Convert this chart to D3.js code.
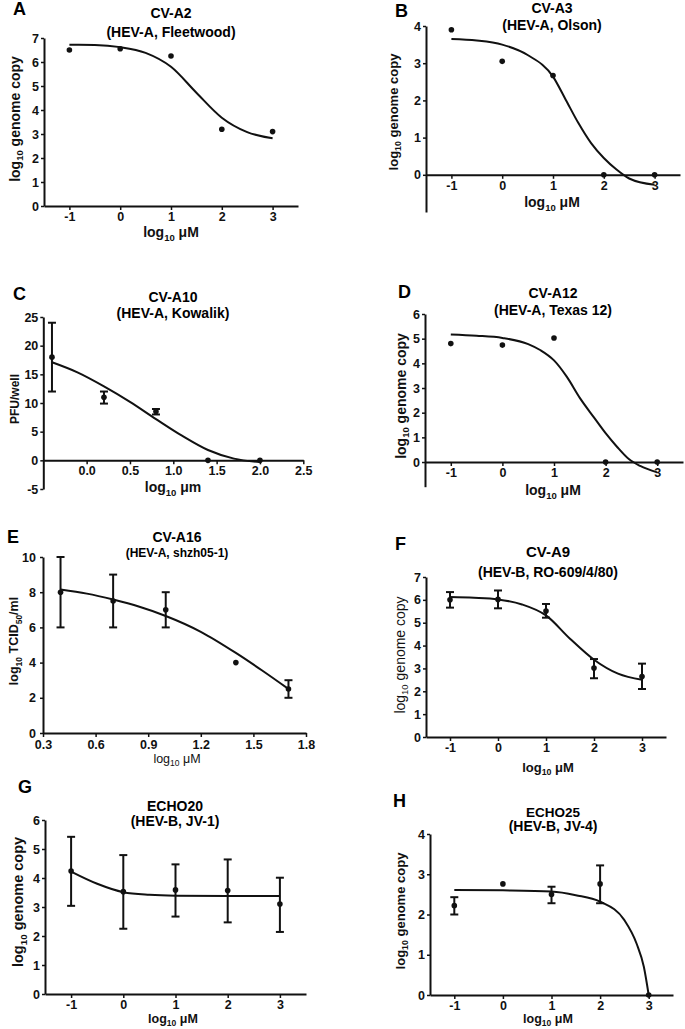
<!DOCTYPE html>
<html><head><meta charset="utf-8">
<script src="https://cdn.jsdelivr.net/npm/d3@7"></script>
<style>body{margin:0;background:#fff}</style></head>
<body><svg id="c" width="685" height="1029"></svg>
<script>
// ---------- DATA ----------
const doseX = [-1, 0, 1, 2, 3];

// A: CV-A2
const aY = [6.5, 6.55, 6.25, 3.2, 3.1];
const aCurveX = [-1, -0.5, 0, 0.5, 1, 1.5, 2, 2.5, 3];
const aCurveY = [6.72, 6.71, 6.62, 6.38, 5.8, 4.72, 3.68, 3.08, 2.82];

// B: CV-A3
const bY = [3.9, 3.05, 2.67, 0, 0];
const bCurveX = [-1, -0.5, 0, 0.5, 1, 1.25, 1.5, 1.75, 2, 2.25, 2.5, 3];
const bCurveY = [3.65, 3.61, 3.5, 3.22, 2.64, 2.02, 1.39, 0.85, 0.45, 0.14, -0.1, -0.27];

// C: CV-A10
const cX = [-0.4, 0.2, 0.8, 1.4, 2.0];
const cY = [18, 11, 8.5, 0, 0];
const cLo = [12, 9.9, 8.0, null, null];
const cHi = [24, 12, 8.95, null, null];
const cCurveX = [-0.4, -0.1, 0.2, 0.5, 0.8, 1.1, 1.4, 1.7, 2.0];
const cCurveY = [17.1, 15.3, 12.9, 10.2, 7.2, 4.3, 1.8, 0.3, -0.3];

// D: CV-A12
const dY = [4.8, 4.74, 5.03, 0, 0];
const dCurveX = [-1, -0.5, 0, 0.5, 0.74, 1, 1.25, 1.5, 1.77, 2, 2.22, 2.45, 2.67, 3];
const dCurveY = [5.17, 5.12, 5.03, 4.78, 4.53, 4.12, 3.45, 2.6, 1.82, 1.17, 0.62, 0.12, -0.16, -0.42];

// E: CV-A16
const eX = [0.4, 0.7, 1.0, 1.4, 1.7];
const eY = [8, 7.5, 7, 4, 2.5];
const eLo = [6, 6, 6, null, 2];
const eHi = [10, 9, 8, null, 3];
const eCurveX = [0.4, 0.55, 0.7, 0.85, 1.0, 1.2, 1.4, 1.55, 1.7];
const eCurveY = [8.15, 7.92, 7.58, 7.17, 6.65, 5.75, 4.55, 3.55, 2.5];

// F: CV-A9
const fY = [6.0, 6.02, 5.51, 3.02, 2.65];
const fLo = [5.66, 5.63, 5.22, 2.57, 2.1];
const fHi = [6.34, 6.41, 5.82, 3.41, 3.21];
const fCurveX = [-1, -0.5, 0, 0.5, 1, 1.5, 2, 2.5, 3];
const fCurveY = [6.12, 6.09, 6.02, 5.8, 5.32, 4.3, 3.38, 2.77, 2.5];

// G: ECHO20
const gY = [4.24, 3.53, 3.59, 3.57, 3.1];
const gLo = [3.04, 2.25, 2.67, 2.47, 2.14];
const gHi = [5.42, 4.79, 4.47, 4.64, 4.01];
const gCurveX = [-1, -0.5, 0, 0.5, 1, 2, 3];
const gCurveY = [4.22, 3.8, 3.51, 3.42, 3.39, 3.38, 3.38];

// H: ECHO25
const hY = [2.22, 2.76, 2.5, 2.76, 0];
const hLo = [2.0, null, 2.28, 2.28, null];
const hHi = [2.43, null, 2.69, 3.22, null];
const hCurveX = [-1, 0, 1, 1.5, 2, 2.5, 2.75, 2.9, 3];
const hCurveY = [2.61, 2.6, 2.57, 2.48, 2.32, 1.86, 1.28, 0.7, 0];

// tick values
const ticksDose = [-1, 0, 1, 2, 3];
const ticksC_X = [0, 0.5, 1.0, 1.5, 2.0, 2.5];
const ticksC_Y = [-5, 0, 5, 10, 15, 20, 25];
const ticksE_X = [0.3, 0.6, 0.9, 1.2, 1.5, 1.8];
const ticksE_Y = [0, 2, 4, 6, 8, 10];

// ---------- LAYOUT ----------
const FONT = "'Liberation Sans', Arial, Helvetica, sans-serif";
const intFmt = d => String(d);
const oneFmt = d => d.toFixed(1);
const genomeLab = [["log"], ["10", 1], [" genome copy"]];
const doseLab = [["log"], ["10", 1], [" \u03bcM"]];

const panels = [
  {letter:"A", lx:13, ly:15, title:"CV-A2", sub:"(HEV-A, Fleetwood)", tx:171, ty:18, sy:37, tS:14, sS:14,
   xd:[-1.5,3.5], xr:[44,298], yd:[0,7], yr:[206,38], xt:ticksDose, yt:d3.range(0,8), xf:intFmt, yf:intFmt,
   xs:doseX, ys:aY, cx:aCurveX, cy:aCurveY,
   xl:doseLab, xlx:171, xly:237, xlS:14, yl:genomeLab, ylx:15, yly:119, ylS:14},
  {letter:"B", lx:395, ly:17, title:"CV-A3", sub:"(HEV-A, Olson)", tx:552, ty:13, sy:30, tS:14, sS:14,
   xd:[-1.5,3.5], xr:[426,680], yd:[-1,4], yr:[212,26], xt:ticksDose, yt:[0,1,2,3,4], xf:intFmt, yf:intFmt,
   xs:doseX, ys:bY, cx:bCurveX, cy:bCurveY,
   xl:doseLab, xlx:552, xly:207, xlS:14, yl:genomeLab, ylx:393, yly:112, ylS:13},
  {letter:"C", lx:13, ly:300, title:"CV-A10", sub:"(HEV-A, Kowalik)", tx:173, ty:302, sy:318, tS:14, sS:14,
   xd:[-0.5,2.5], xr:[43.3,303.3], yd:[-5,25], yr:[489,317], xt:ticksC_X, yt:ticksC_Y, xf:oneFmt, yf:intFmt,
   xs:cX, ys:cY, lo:cLo, hi:cHi, cx:cCurveX, cy:cCurveY,
   xl:[["log"],["10",1],[" \u03bcm"]], xlx:173, xly:492, xlS:14, yl:[["PFU/well"]], ylx:15, yly:399, ylS:12},
  {letter:"D", lx:398, ly:298, title:"CV-A12", sub:"(HEV-A, Texas 12)", tx:553, ty:298, sy:315, tS:14, sS:14,
   xd:[-1.5,3.5], xr:[425,683], yd:[-1,6], yr:[486.7,314], xt:ticksDose, yt:[0,1,2,3,4,5,6], xf:intFmt, yf:intFmt,
   xs:doseX, ys:dY, cx:dCurveX, cy:dCurveY,
   xl:doseLab, xlx:553, xly:495, xlS:14, yl:genomeLab, ylx:401, yly:396, ylS:14},
  {letter:"E", lx:7, ly:543, title:"CV-A16", sub:"(HEV-A, shzh05-1)", tx:177, ty:542, sy:557, tS:14, sS:12,
   xd:[0.3,1.8], xr:[43,306], yd:[0,10], yr:[733,557], xt:ticksE_X, yt:ticksE_Y, xf:oneFmt, yf:intFmt,
   xs:eX, ys:eY, lo:eLo, hi:eHi, cx:eCurveX, cy:eCurveY, xPad:3, yPad:4,
   xl:doseLab, xlx:177, xly:763, xlS:12.5, xlW:"normal",
   yl:[["log"],["10",1],[" TCID"],["50",1],["/ml"]], ylx:14, yly:641, ylS:12.5},
  {letter:"F", lx:395, ly:550, title:"CV-A9", sub:"(HEV-B, RO-609/4/80)", tx:548, ty:557, sy:577, tS:15, sS:14,
   xd:[-1.5,3.5], xr:[426,666], yd:[0,7], yr:[737,577], xt:ticksDose, yt:d3.range(0,8), xf:intFmt, yf:intFmt,
   xs:doseX, ys:fY, lo:fLo, hi:fHi, cx:fCurveX, cy:fCurveY,
   xl:doseLab, xlx:548, xly:772, xlS:13, yl:genomeLab, ylx:400, yly:655, ylS:14, ylW:"normal"},
  {letter:"G", lx:18, ly:793, title:"ECHO20", sub:"(HEV-B, JV-1)", tx:175, ty:811, sy:826, tS:14, sS:14,
   xd:[-1.5,3.5], xr:[45,306], yd:[0,6], yr:[994,820], xt:ticksDose, yt:d3.range(0,7), xf:intFmt, yf:intFmt,
   xs:doseX, ys:gY, lo:gLo, hi:gHi, cx:gCurveX, cy:gCurveY,
   xl:doseLab, xlx:173, xly:1023, xlS:12.5, yl:genomeLab, ylx:18, yly:902, ylS:14.5},
  {letter:"H", lx:393, ly:807, title:"ECHO25", sub:"(HEV-B, JV-4)", tx:553, ty:817, sy:831, tS:13.5, sS:14,
   xd:[-1.5,3.5], xr:[430,673], yd:[0,4], yr:[995,834], xt:ticksDose, yt:[0,1,2,3,4], xf:intFmt, yf:intFmt,
   xs:doseX, ys:hY, lo:hLo, hi:hHi, cx:hCurveX, cy:hCurveY,
   xl:doseLab, xlx:548, xly:1023, xlS:12.5, yl:genomeLab, ylx:400, yly:911, ylS:13}
];

// ---------- DRAW ----------
const svg = d3.select("#c").style("font-family", FONT);
svg.append("rect").attr("width",685).attr("height",1029).attr("fill","#fff");

function richText(sel, parts, size) {
  const shift = size * 0.25;
  let down = false;
  parts.forEach(p => {
    const t = sel.append("tspan").text(p[0]);
    if (p[1]) { t.attr("font-size", size * 0.68).attr("dy", shift); down = true; }
    else if (down) { t.attr("dy", -shift); down = false; }
  });
}

panels.forEach(p => {
  const g = svg.append("g");
  const x = d3.scaleLinear().domain(p.xd).range(p.xr);
  const y = d3.scaleLinear().domain(p.yd).range(p.yr);

  g.append("text").attr("x", p.lx).attr("y", p.ly).attr("font-size", 18)
    .attr("font-weight", "bold").text(p.letter);
  g.append("text").attr("x", p.tx).attr("y", p.ty).attr("text-anchor", "middle")
    .attr("font-size", p.tS).attr("font-weight", "bold").text(p.title);
  g.append("text").attr("x", p.tx).attr("y", p.sy).attr("text-anchor", "middle")
    .attr("font-size", p.sS).attr("font-weight", "bold").text(p.sub);

  const ya = g.append("g").attr("transform", `translate(${p.xr[0]},0)`)
    .call(d3.axisLeft(y).tickValues(p.yt).tickFormat(p.yf).tickSize(3).tickPadding(p.yPad || 2).tickSizeOuter(0));
  const xa = g.append("g").attr("transform", `translate(0,${y(0)})`)
    .call(d3.axisBottom(x).tickValues(p.xt).tickFormat(p.xf).tickSize(4).tickPadding(p.xPad || 2).tickSizeOuter(0));
  [ya, xa].forEach(a => {
    a.select(".domain").attr("stroke", "#111").attr("stroke-width", 2);
    a.selectAll(".tick line").attr("stroke", "#111").attr("stroke-width", 1.5);
    a.selectAll(".tick text").attr("fill", "#111").attr("font-size", 12.5)
      .attr("font-weight", "bold").attr("font-family", FONT);
  });

  const xl = g.append("text").attr("x", p.xlx).attr("y", p.xly).attr("text-anchor", "middle")
    .attr("font-size", p.xlS).attr("font-weight", p.xlW || "bold").attr("fill", "#111");
  richText(xl, p.xl, p.xlS);
  const yl = g.append("text").attr("transform", `translate(${p.ylx},${p.yly}) rotate(-90)`)
    .attr("text-anchor", "middle").attr("dy", "0.35em")
    .attr("font-size", p.ylS).attr("font-weight", p.ylW || "bold").attr("fill", "#111");
  richText(yl, p.yl, p.ylS);

  const cpts = p.cx.map((v, i) => [v, p.cy[i]]);
  g.append("path").datum(cpts)
    .attr("d", d3.line().x(d => x(d[0])).y(d => y(d[1])).curve(d3.curveMonotoneX))
    .attr("fill", "none").attr("stroke", "#111").attr("stroke-width", 2);

  if (p.lo) {
    p.xs.forEach((v, i) => {
      if (p.lo[i] == null) return;
      const cxp = x(v), y1 = y(p.lo[i]), y2 = y(p.hi[i]);
      g.append("line").attr("x1", cxp).attr("x2", cxp).attr("y1", y1).attr("y2", y2)
        .attr("stroke", "#111").attr("stroke-width", 2);
      [y1, y2].forEach(yy => g.append("line").attr("x1", cxp - 4).attr("x2", cxp + 4)
        .attr("y1", yy).attr("y2", yy).attr("stroke", "#111").attr("stroke-width", 2));
    });
  }
  g.selectAll("circle.pt").data(p.xs.map((v, i) => [v, p.ys[i]])).enter()
    .append("circle").attr("cx", d => x(d[0])).attr("cy", d => y(d[1])).attr("r", 2.8).attr("fill", "#111");
});
</script>
</body></html>
